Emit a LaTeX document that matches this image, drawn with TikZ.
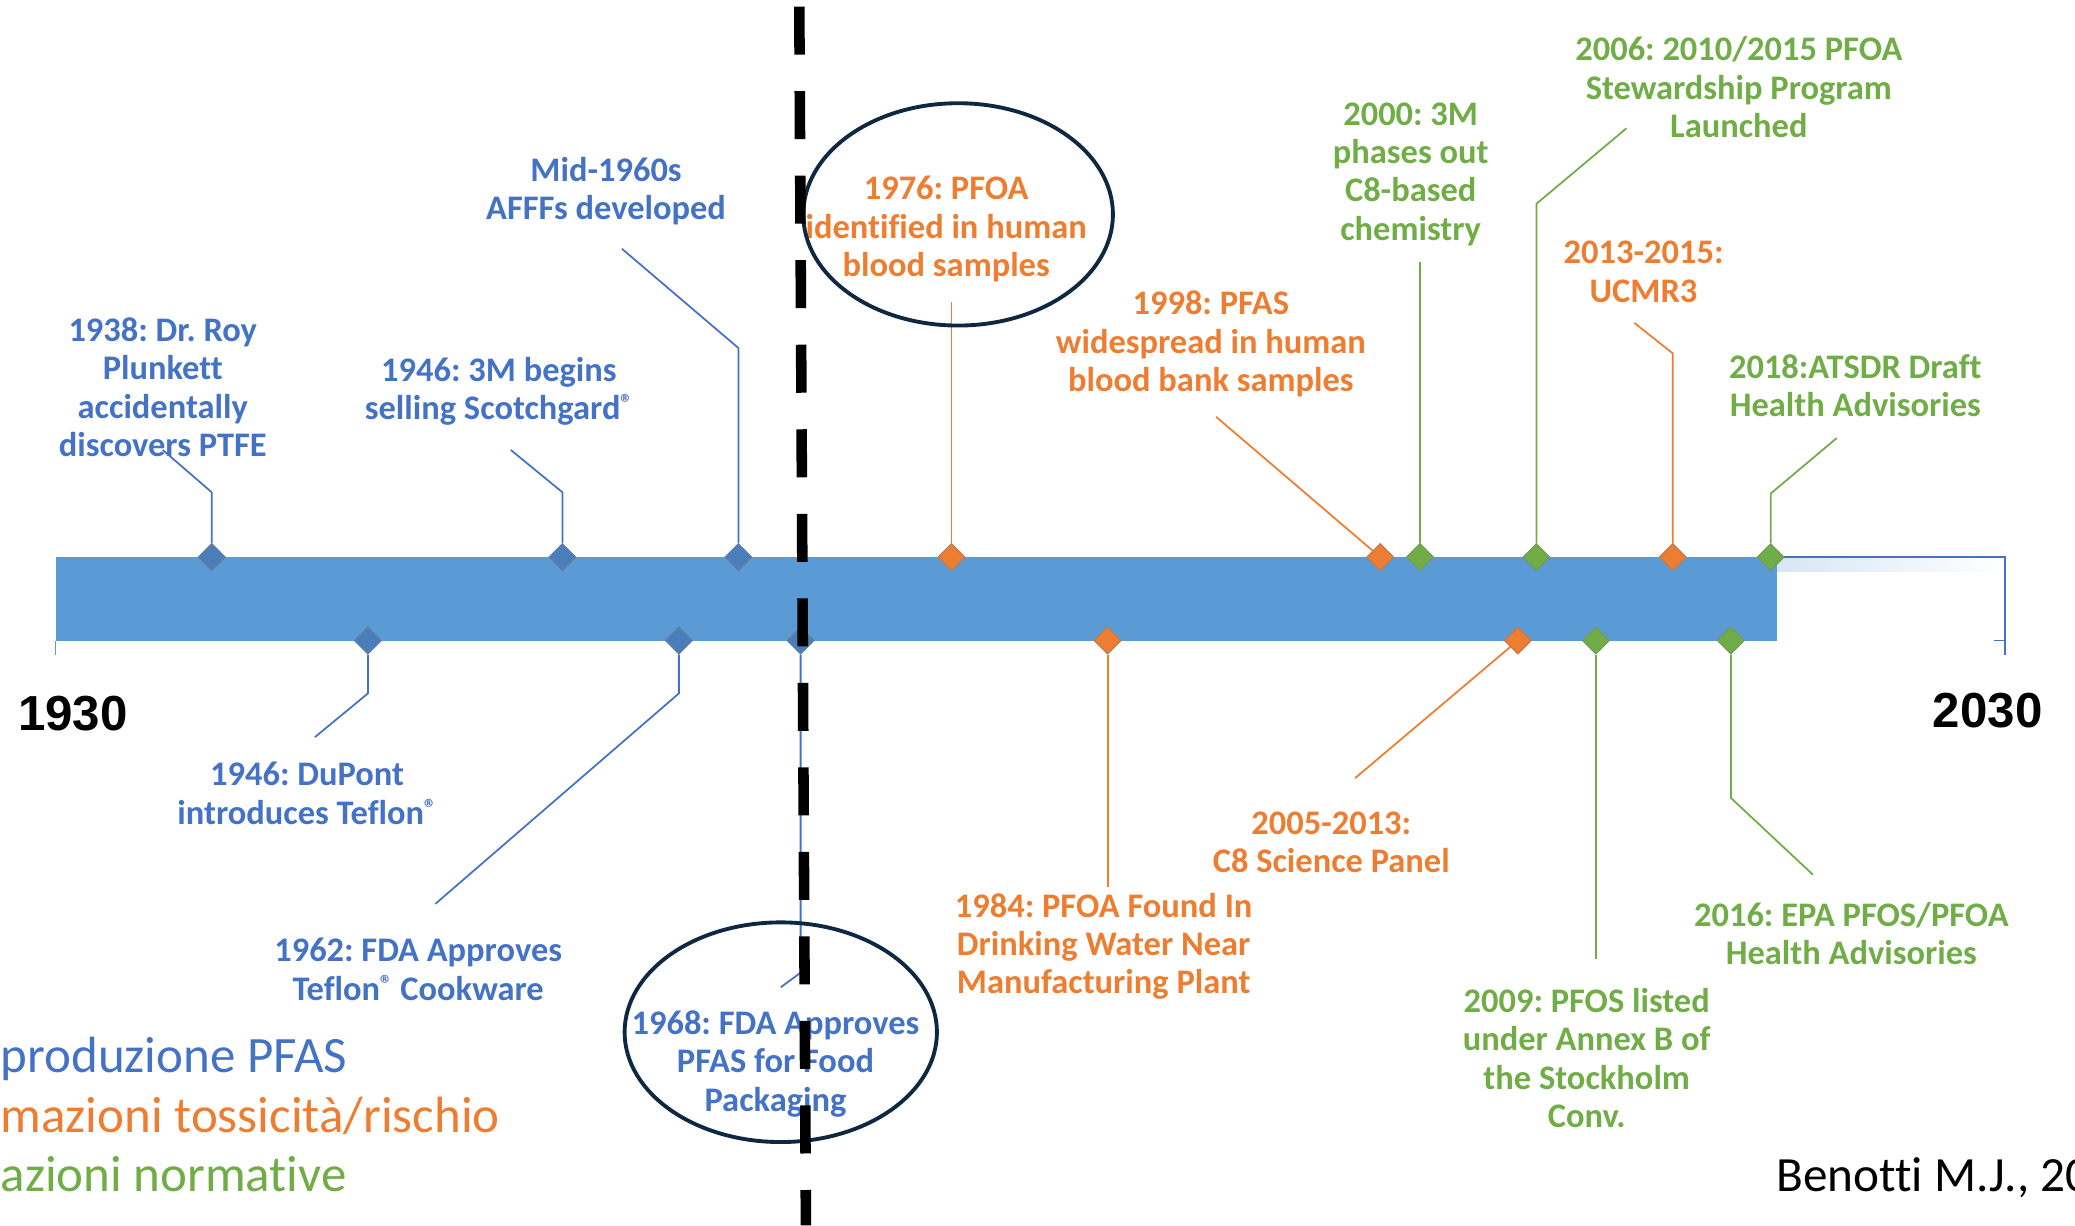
\documentclass[tikz,border=0pt]{standalone}
\usepackage{fontspec}
\setmainfont{Carlito}[Ligatures=NoCommon]
\newfontfamily\yearfont{Liberation Sans}
\usetikzlibrary{shapes.geometric}
\definecolor{barblue}{RGB}{91,155,213}
\definecolor{pblue}{RGB}{68,114,196}
\definecolor{dblue}{RGB}{74,126,187}
\definecolor{porange}{RGB}{237,125,49}
\definecolor{pgreen}{RGB}{112,173,71}
\definecolor{ringcol}{RGB}{14,40,65}
\newcommand{\regmark}{\raisebox{0.45ex}{\fontsize{7}{7}\selectfont ®}}
\frenchspacing

\begin{document}
\begin{tikzpicture}[x=0.013233cm, y=-0.013233cm,
  ev/.style={align=center, font=\bfseries\fontsize{9.8}{10.9}\selectfont, inner sep=0},
  dia/.style={diamond, inner sep=0, minimum width=0.27cm, minimum height=0.27cm, fill=#1, draw=#1!60!gray, line width=0.4pt},
  stem/.style={line width=0.5pt},
  ring/.style={ringcol, line width=1.1pt},
  legend/.style={anchor=west, inner sep=0, font=\fontsize{14.5}{16}\selectfont}]
\path[use as bounding box] (0,0) rectangle (1568,926);

\fill[barblue] (42,421) rectangle (1343,484);
\shade[left color=barblue!25, right color=white] (1343,422) rectangle (1515,432);
\draw[pblue, line width=0.7pt] (1343,421) -- (1515,421) -- (1515,495);
\draw[pblue, line width=0.5pt] (1507,484) -- (1515,484);
\draw[barblue, line width=0.5pt] (42,484) -- (42,495);

\foreach \n/\x/\c in {d38/160/dblue, d46/425/dblue, d65/558/dblue, d76/719/porange, d98/1043/porange, d00/1073/pgreen, d06/1161/pgreen, d13/1264/porange, d18/1338/pgreen}
  \node[dia=\c] (\n) at (\x,421) {};
\foreach \n/\x/\c in {d46b/278/dblue, d62/513/dblue, d68/605/dblue, d84/837/porange, d05/1147/porange, d09/1206/pgreen, d16/1308/pgreen}
  \node[dia=\c] (\n) at (\x,484) {};

\foreach \n/\x/\y in {t38/123/340, t46/386/340, t65/470/188, t76/719/228, t98/919/315, t00/1073/198, t06/1229/97, t13/1235/244, t18/1388/331, t46b/238/557, t62/329/683, t68/590/746, t84/837/670, t05/1024/588, t09/1206/725, t16/1370/661}
  \coordinate (\n) at (\x,\y);

\draw[stem, pblue] (d38) -- ++(0,-49) -- (t38);
\draw[stem, pblue] (d46) -- ++(0,-49) -- (t46);
\draw[stem, pblue] (d65) -- ++(0,-158) -- (t65);
\draw[stem, porange] (d76) -- (t76);
\draw[stem, porange] (d98) -- (t98);
\draw[stem, pgreen] (d00) -- (t00);
\draw[stem, pgreen] (d06) -- ++(0,-267) -- (t06);
\draw[stem, porange] (d13) -- ++(0,-154) -- (t13);
\draw[stem, pgreen] (d18) -- ++(0,-48) -- (t18);
\draw[stem, pblue] (d46b) -- ++(0,40) -- (t46b);
\draw[stem, pblue] (d62) -- ++(0,40) -- (t62);
\draw[stem, pblue] (d68) -- ++(0,251) -- (t68);
\draw[stem, porange] (d84) -- (t84);
\draw[stem, porange] (d05) -- (t05);
\draw[stem, pgreen] (d09) -- (t09);
\draw[stem, pgreen] (d16) -- ++(0,119) -- (t16);

\node[ev, pblue] (l38) at (123,292.5) {1938: Dr. Roy\\Plunkett\\accidentally\\discovers PTFE};
\node[ev, pblue] (l46) at (377,295.5) {1946: 3M begins\\selling Scotchgard\regmark};
\node[ev, pblue] (l65) at (458,144.5) {Mid-1960s\\AFFFs developed};
\node[ev, porange] (l76) at (715,173) {1976: PFOA\\identified in human\\blood samples};
\node[ev, porange] (l98) at (915,260) {1998: PFAS\\widespread in human\\blood bank samples};
\node[ev, pgreen] (l00) at (1066,131.5) {2000: 3M\\phases out\\C8-based\\chemistry};
\node[ev, pgreen] (l06) at (1314,66) {2006: 2010/2015 PFOA\\Stewardship Program\\Launched};
\node[ev, porange] (l13) at (1242,205.5) {2013-2015:\\UCMR3};
\node[ev, pgreen] (l18) at (1402,291.5) {2018:ATSDR Draft\\Health Advisories};
\node[ev, pblue] (l46b) at (232,599.5) {1946: DuPont\\introduces Teflon\regmark};
\node[ev, pblue] (l62) at (316,732.5) {1962: FDA Approves\\Teflon\regmark{} Cookware};
\node[ev, pblue] (l68) at (586,804) {1968: FDA Approves\\PFAS for Food\\Packaging};
\node[ev, porange] (l84) at (834,715) {1984: PFOA Found In\\Drinking Water Near\\Manufacturing Plant};
\node[ev, porange] (l05) at (1006,636.5) {2005-2013:\\C8 Science Panel};
\node[ev, pgreen] (l09) at (1199,799.5) {2009: PFOS listed\\under Annex B of\\the Stockholm\\Conv.};
\node[ev, pgreen] (l16) at (1399,705.5) {2016: EPA PFOS/PFOA\\Health Advisories};

\node[font=\yearfont\bfseries\fontsize{14}{16}\selectfont] (y1930) at (55,539) {1930};
\node[font=\yearfont\bfseries\fontsize{14}{16}\selectfont] (y2030) at (1502,537) {2030};

\node[legend, pblue] (lg1) at (0,800) {produzione PFAS};
\node[legend, porange] (lg2) at (0,843) {mazioni tossicità/rischio};
\node[legend, pgreen] (lg3) at (0,887) {azioni normative};
\node[anchor=west, inner sep=0, font=\fontsize{14}{16}\selectfont] (src) at (1342,890) {Benotti M.J., 20};

\draw[ring] (724,162) ellipse [x radius=117, y radius=84];
\draw[ring] (590,780) ellipse [x radius=118, y radius=83];

\draw[line width=3pt, dash pattern=on 0.48cm off 0.365cm] (604,5) -- (609,926);
\end{tikzpicture}
\end{document}
